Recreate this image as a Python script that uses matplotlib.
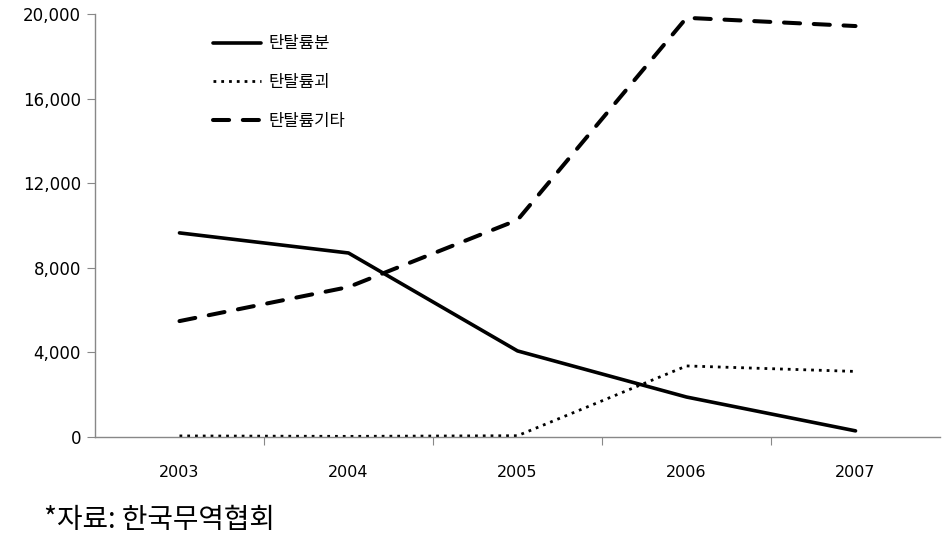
import matplotlib.pyplot as plt
import numpy as np
from matplotlib.ticker import FuncFormatter

years = ['2003', '2004', '2005', '2006', '2007']
powder = [9650, 8700, 4070, 1890, 290]      # 탄탈륨분
lump = [50, 30, 60, 3360, 3100]             # 탄탈륨괴
other = [5480, 7090, 10260, 19820, 19430]   # 탄탈륨기타
names = ['탄탈륨분', '탄탈륨괴', '탄탈륨기타']

plt.rcParams['font.family'] = ['DejaVu Sans']

fig = plt.figure(figsize=(9.46, 5.51), dpi=100)
ax = fig.add_axes([0.1004, 0.2069, 0.8933, 0.7677])

x = np.arange(len(years))
ax.plot(x, powder, color='black', linestyle='-', linewidth=2.6,
        solid_joinstyle='round', solid_capstyle='round', label=names[0], clip_on=False)
ax.plot(x, lump, color='black', linestyle=(0, (1.0, 1.8)), linewidth=2.0,
        dash_joinstyle='round', label=names[1], clip_on=False)
ax.plot(x, other, color='black', linestyle=(0, (4.0, 3.4)), linewidth=2.9,
        dash_joinstyle='round', dash_capstyle='round', label=names[2], clip_on=False)

ax.set_xlim(-0.5, 4.5)
ax.set_ylim(0, 20000)
ax.set_yticks(range(0, 20001, 4000))
ax.yaxis.set_major_formatter(FuncFormatter(lambda v, p: f'{int(v):,}'))

# ticks sit between categories, labels at category centres
ax.set_xticks(np.arange(0.5, 4.5, 1.0))
ax.set_xticklabels([])
ax.set_xticks(x, minor=True)
ax.set_xticklabels(years, minor=True)
ax.tick_params(axis='x', which='major', length=6, color='#888888', direction='out')
ax.tick_params(axis='x', which='minor', length=0, pad=20, labelsize=11.5)
ax.tick_params(axis='y', length=6, color='#888888', direction='out', labelsize=12, pad=4)

for s in ['top', 'right']:
    ax.spines[s].set_visible(False)
for s in ['left', 'bottom']:
    ax.spines[s].set_color('#888888')
    ax.spines[s].set_linewidth(1.0)

leg = ax.legend(loc='upper left', bbox_to_anchor=(0.122, 0.985),
                frameon=False, handlelength=2.9, handletextpad=0.45,
                labelspacing=1.3, prop={'family': ['Noto Sans CJK KR', 'DejaVu Sans'], 'size': 12})

fig.text(0.047, 0.056, '*자료: 한국무역협회', fontsize=20, va='center',
         family=['Noto Sans CJK KR', 'DejaVu Sans'])

fig.savefig('out.png', dpi=100)
